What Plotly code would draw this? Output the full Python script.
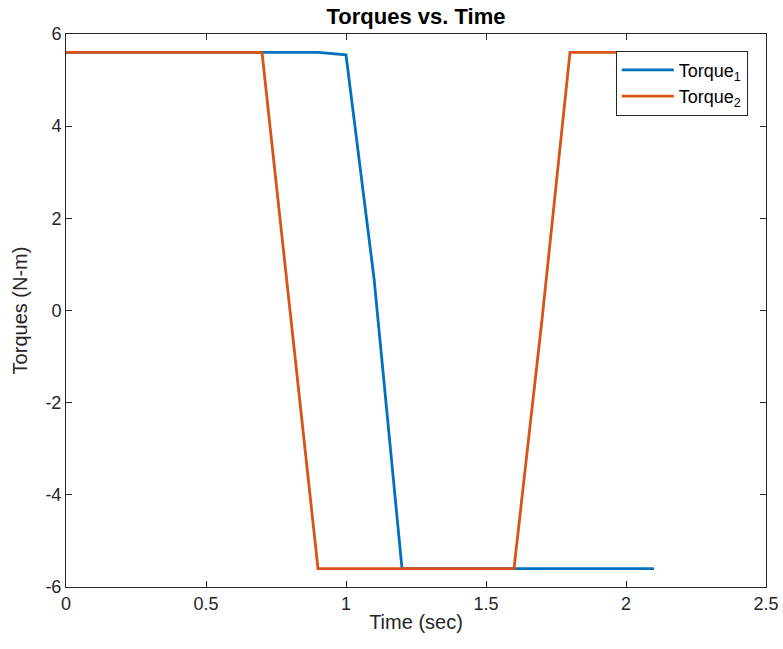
import plotly.graph_objects as go

time = [0.0, 0.1, 0.2, 0.3, 0.4, 0.5, 0.6, 0.7, 0.8, 0.9, 1.0, 1.1, 1.2, 1.3, 1.4, 1.5, 1.6, 1.7, 1.8, 1.9, 2.0, 2.1]
torque1 = [5.6, 5.6, 5.6, 5.6, 5.6, 5.6, 5.6, 5.6, 5.6, 5.6, 5.55, 0.7, -5.6, -5.6, -5.6, -5.6, -5.6, -5.6, -5.6, -5.6, -5.6, -5.6]
torque2 = [5.6, 5.6, 5.6, 5.6, 5.6, 5.6, 5.6, 5.6, 0.0, -5.6, -5.6, -5.6, -5.6, -5.6, -5.6, -5.6, -5.6, -0.2, 5.6, 5.6, 5.6, 5.6]
xticks = [0, 0.5, 1, 1.5, 2, 2.5]
xticklabels = ["0", "0.5", "1", "1.5", "2", "2.5"]
yticks = [-6, -4, -2, 0, 2, 4, 6]
yticklabels = ["-6", "-4", "-2", "0", "2", "4", "6"]

font = "Liberation Sans, Arial, Helvetica, sans-serif"

fig = go.Figure()
fig.add_trace(go.Scatter(x=time, y=torque1, mode="lines", name="Torque<sub>1</sub>",
                         line=dict(color="#0072BD", width=2.8)))
fig.add_trace(go.Scatter(x=time, y=torque2, mode="lines", name="Torque<sub>2</sub>",
                         line=dict(color="#D95319", width=2.8)))

axis_common = dict(showline=True, linecolor="#262626", linewidth=1, mirror="ticks",
                   ticks="inside", ticklen=6, tickcolor="#262626", showgrid=False,
                   zeroline=False, automargin=False,
                   tickfont=dict(family=font, size=18, color="#262626"))

fig.update_layout(
    width=783, height=649,
    margin=dict(l=66, r=17, t=34, b=62),
    paper_bgcolor="white", plot_bgcolor="white",
    title=dict(text="<b>Torques vs. Time</b>", x=0.5, xanchor="center", y=0.975, yanchor="middle",
               xref="paper",
               font=dict(family=font, size=22, color="black")),
    xaxis=dict(range=[0, 2.5], tickvals=xticks, ticktext=xticklabels,
               title=dict(text="Time (sec)", font=dict(family=font, size=20, color="#262626"), standoff=2),
               **axis_common),
    yaxis=dict(range=[-6, 6], tickvals=yticks, ticktext=yticklabels,
               title=dict(text="Torques (N-m)", font=dict(family=font, size=20, color="#262626"), standoff=12),
               **axis_common),
    legend=dict(x=0.974, y=0.97, xanchor="right", yanchor="top",
                bordercolor="#262626", borderwidth=1, bgcolor="white",
                font=dict(family=font, size=18, color="black"),
                tracegroupgap=0, itemwidth=52),
    showlegend=True,
)

fig.write_html("out.html")
